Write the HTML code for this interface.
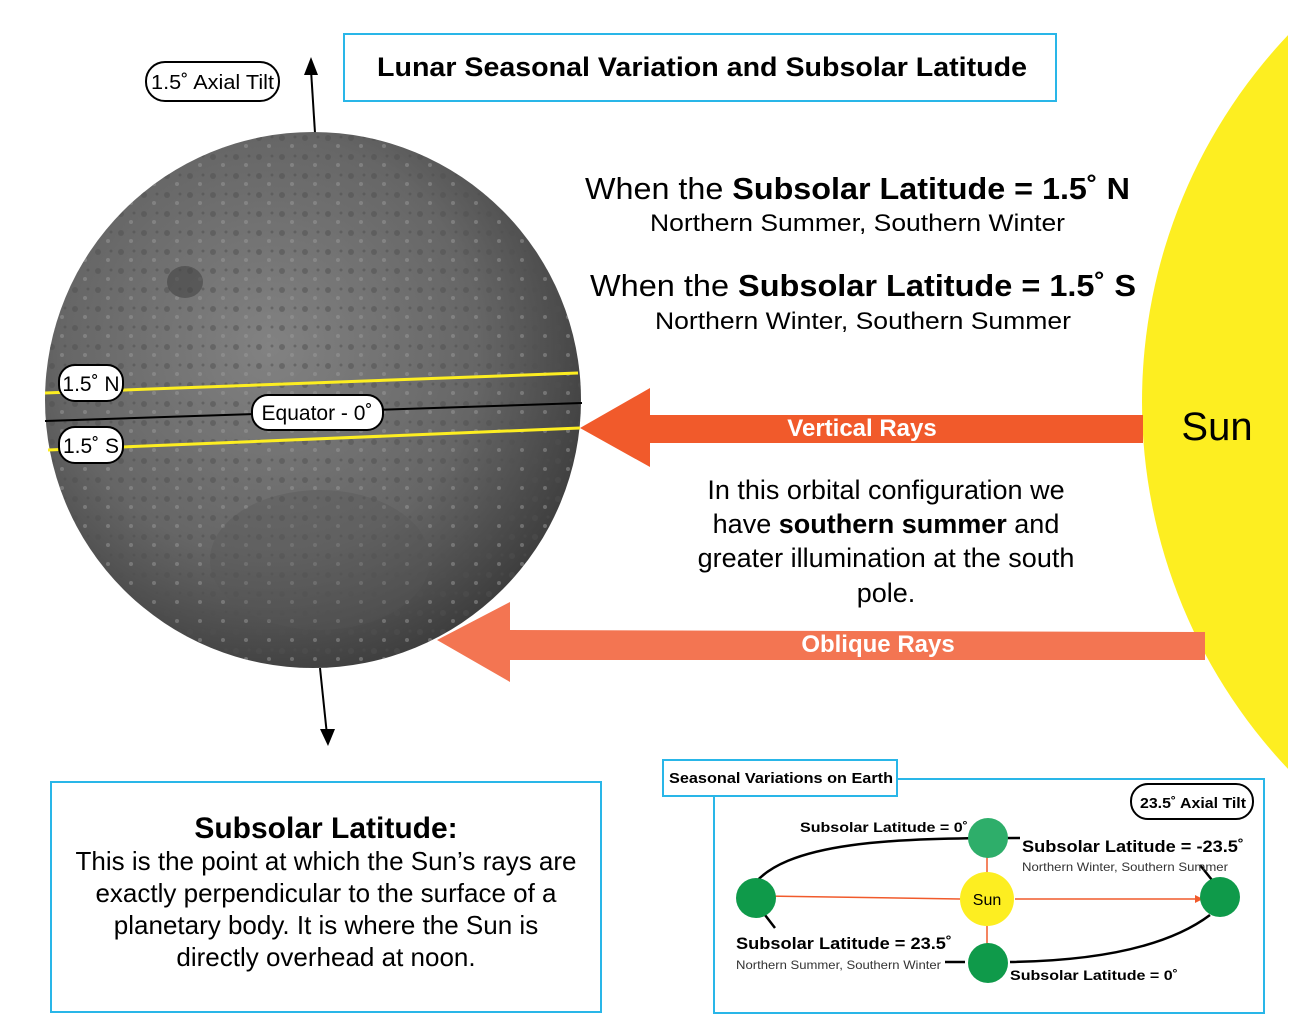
<!DOCTYPE html>
<html><head><meta charset="utf-8"><style>
body{margin:0;background:#fff;}
svg{display:block;font-family:"Liberation Sans",sans-serif;}
</style></head><body>
<svg width="1298" height="1036" viewBox="0 0 1298 1036">
<defs>
<radialGradient id="mg" cx="0.42" cy="0.4" r="0.65">
<stop offset="0" stop-color="#828282"/><stop offset="0.6" stop-color="#666"/><stop offset="1" stop-color="#3a3a3a"/>
</radialGradient>
<pattern id="crat" width="23" height="19" patternUnits="userSpaceOnUse">
<circle cx="6" cy="5" r="3" fill="#505050" opacity="0.5"/><circle cx="16" cy="13" r="2" fill="#9a9a9a" opacity="0.5"/><circle cx="19" cy="4" r="1.5" fill="#4d4d4d" opacity="0.5"/>
</pattern>
<clipPath id="pg"><rect x="0" y="0" width="1288" height="1036"/></clipPath>
</defs>
<circle cx="1676" cy="402" r="534" fill="#fdee21" clip-path="url(#pg)"/>
<text x="1217" y="440" font-size="40" text-anchor="middle">Sun</text>
<rect x="344" y="34" width="712" height="67" fill="#fff" stroke="#29b6e8" stroke-width="2"/>
<text x="377" y="76" font-size="27" font-weight="bold" textLength="650" lengthAdjust="spacingAndGlyphs">Lunar Seasonal Variation and Subsolar Latitude</text>
<line x1="315" y1="133" x2="311" y2="70" stroke="#000" stroke-width="2"/>
<polygon points="311,57 304,75 318,75" fill="#000"/>
<line x1="320" y1="668" x2="327" y2="735" stroke="#000" stroke-width="2"/>
<polygon points="328,746 320,729 335,729" fill="#000"/>
<rect x="146" y="62" width="133" height="39" rx="19" fill="#fff" stroke="#000" stroke-width="2"/>
<text x="151" y="89" font-size="20" textLength="123" lengthAdjust="spacingAndGlyphs">1.5˚ Axial Tilt</text>
<circle cx="313" cy="400" r="268" fill="url(#mg)"/>
<circle cx="313" cy="400" r="268" fill="url(#crat)"/>
<ellipse cx="185" cy="282" rx="18" ry="16" fill="#444" opacity="0.6"/>
<ellipse cx="320" cy="560" rx="110" ry="70" fill="#555" opacity="0.35"/>
<line x1="45" y1="393" x2="578" y2="373" stroke="#fdee21" stroke-width="3"/>
<line x1="45" y1="421" x2="582" y2="403" stroke="#000" stroke-width="2"/>
<line x1="48" y1="450" x2="580" y2="428" stroke="#fdee21" stroke-width="3"/>
<rect x="59" y="365" width="64" height="36" rx="16" fill="#fff" stroke="#000" stroke-width="2"/>
<text x="91" y="391" font-size="21" text-anchor="middle">1.5˚ N</text>
<rect x="59" y="427" width="64" height="36" rx="16" fill="#fff" stroke="#000" stroke-width="2"/>
<text x="91" y="453" font-size="21" text-anchor="middle">1.5˚ S</text>
<rect x="252" y="395" width="131" height="35" rx="16" fill="#fff" stroke="#000" stroke-width="2"/>
<text x="317" y="420" font-size="21" text-anchor="middle">Equator - 0˚</text>
<text x="585" y="199" font-size="31" textLength="545" lengthAdjust="spacingAndGlyphs">When the <tspan font-weight="bold">Subsolar Latitude = 1.5˚ N</tspan></text>
<text x="650" y="231" font-size="24" textLength="415" lengthAdjust="spacingAndGlyphs">Northern Summer, Southern Winter</text>
<text x="590" y="296" font-size="31" textLength="546" lengthAdjust="spacingAndGlyphs">When the <tspan font-weight="bold">Subsolar Latitude = 1.5˚ S</tspan></text>
<text x="655" y="329" font-size="24" textLength="416" lengthAdjust="spacingAndGlyphs">Northern Winter, Southern Summer</text>
<g>
<polygon points="580,428 650,388 650,415 1143,415 1143,443 650,443 650,467" fill="#f15a2b"/>
<text x="862" y="436" font-size="24" font-weight="bold" fill="#fff" text-anchor="middle">Vertical Rays</text>
</g>
<g>
<polygon points="437,640 510,602 510,630 1205,632 1205,660 510,660 510,682" fill="#f37552"/>
<text x="878" y="652" font-size="24" font-weight="bold" fill="#fff" text-anchor="middle">Oblique Rays</text>
</g>
<g font-size="27" text-anchor="middle">
<text x="886" y="499">In this orbital configuration we</text>
<text x="886" y="533">have <tspan font-weight="bold">southern summer</tspan> and</text>
<text x="886" y="567">greater illumination at the south</text>
<text x="886" y="602">pole.</text>
</g>
<rect x="51" y="782" width="550" height="230" fill="#fff" stroke="#29b6e8" stroke-width="2"/>
<text x="326" y="838" font-size="30" font-weight="bold" text-anchor="middle">Subsolar Latitude:</text>
<g font-size="26" text-anchor="middle">
<text x="326" y="870">This is the point at which the Sun’s rays are</text>
<text x="326" y="902">exactly perpendicular to the surface of a</text>
<text x="326" y="934">planetary body. It is where the Sun is</text>
<text x="326" y="966">directly overhead at noon.</text>
</g>
<rect x="714" y="779" width="550" height="234" fill="#fff" stroke="#29b6e8" stroke-width="2"/>
<rect x="663" y="760" width="234" height="36" fill="#fff" stroke="#29b6e8" stroke-width="2"/>
<text x="669" y="783" font-size="15" font-weight="bold" textLength="224" lengthAdjust="spacingAndGlyphs">Seasonal Variations on Earth</text>
<rect x="1131" y="784" width="122" height="35" rx="17" fill="#fff" stroke="#000" stroke-width="2"/>
<text x="1140" y="808" font-size="15" font-weight="bold" textLength="106" lengthAdjust="spacingAndGlyphs">23.5˚ Axial Tilt</text>
<path d="M750,890 C780,840 900,838 1020,838 M1200,865 L1212,880 M1210,915 Q1150,960 1010,962 M965,962 L945,962 M765,915 L775,928" fill="none" stroke="#000" stroke-width="2.5"/>
<line x1="960" y1="899" x2="763" y2="896" stroke="#f15a2b" stroke-width="1.5"/><polygon points="763,896 771,892 771,900" fill="#f15a2b"/>
<line x1="1015" y1="899" x2="1200" y2="899" stroke="#f15a2b" stroke-width="1.5"/><polygon points="1203,899 1195,895 1195,903" fill="#f15a2b"/>
<line x1="987" y1="872" x2="987" y2="840" stroke="#f15a2b" stroke-width="1.5"/>
<line x1="987" y1="926" x2="987" y2="958" stroke="#f15a2b" stroke-width="1.5"/>
<g fill="#0f9a4a">
<ellipse cx="988" cy="838" rx="20" ry="20" fill="#2eae6a"/>
<ellipse cx="756" cy="898" rx="20" ry="20"/>
<ellipse cx="1220" cy="897" rx="20" ry="20"/>
<ellipse cx="988" cy="963" rx="20" ry="20"/>
</g>
<circle cx="987" cy="899" r="27" fill="#fdee21"/>
<text x="987" y="905" font-size="16" text-anchor="middle">Sun</text>
<g font-weight="bold" font-size="14">
<text x="800" y="832" textLength="168" lengthAdjust="spacingAndGlyphs">Subsolar Latitude = 0˚</text>
<text x="1022" y="852" font-size="17" textLength="222" lengthAdjust="spacingAndGlyphs">Subsolar Latitude = -23.5˚</text>
<text x="736" y="949" font-size="17" textLength="216" lengthAdjust="spacingAndGlyphs">Subsolar Latitude = 23.5˚</text>
<text x="1010" y="980" textLength="168" lengthAdjust="spacingAndGlyphs">Subsolar Latitude = 0˚</text>
</g>
<text x="1022" y="871" font-size="12" fill="#333" textLength="206" lengthAdjust="spacingAndGlyphs">Northern Winter, Southern Summer</text>
<text x="736" y="969" font-size="12" fill="#333" textLength="205" lengthAdjust="spacingAndGlyphs">Northern Summer, Southern Winter</text>
</svg>
</body></html>
